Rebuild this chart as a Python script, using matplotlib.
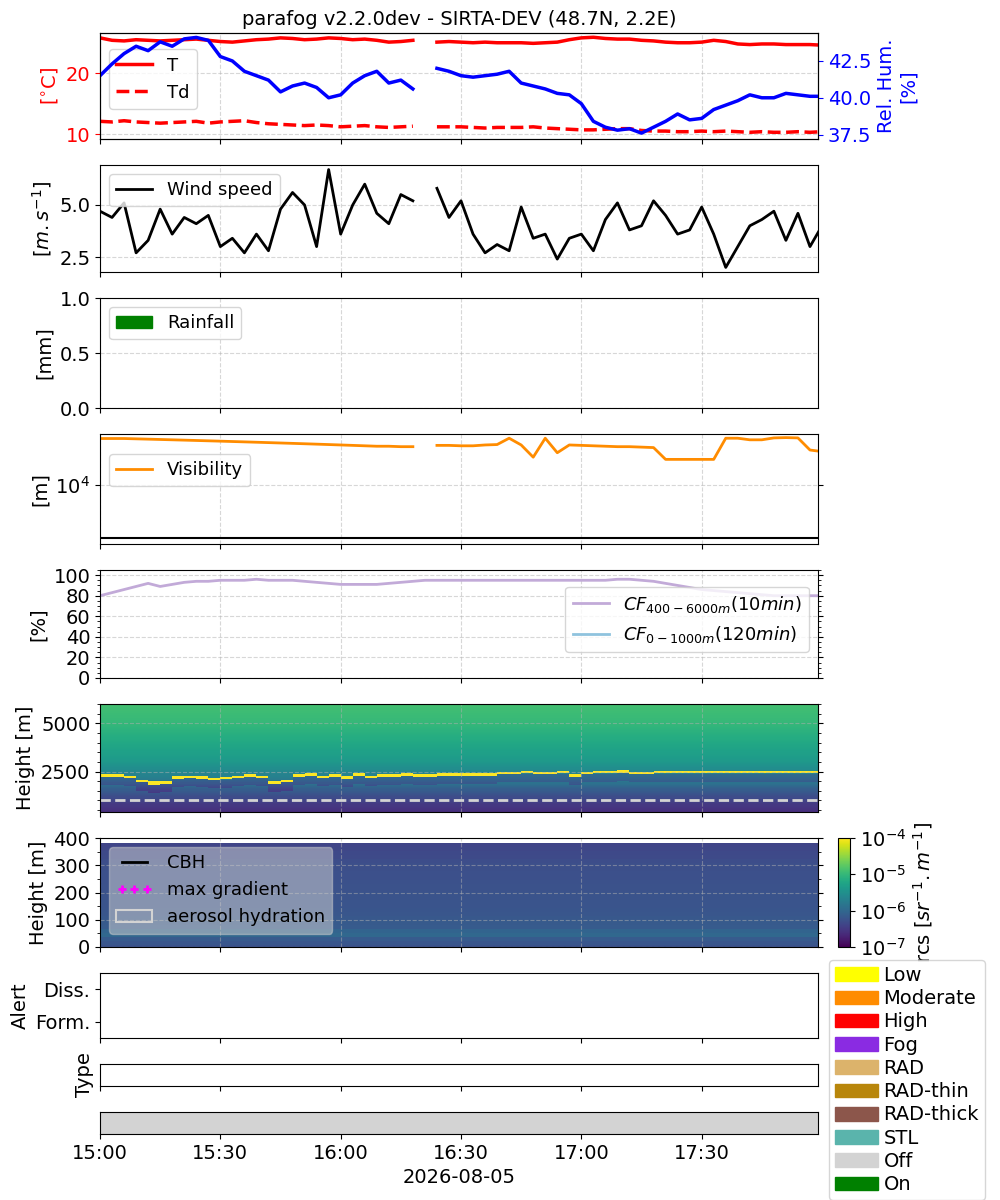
import numpy as np
import pandas as pd
import matplotlib
matplotlib.use("Agg")
import matplotlib.pyplot as plt
import matplotlib.dates as mdates
from matplotlib.colors import LogNorm
from matplotlib.patches import Patch
from matplotlib.lines import Line2D

plt.rcParams["font.size"] = 14
plt.rcParams["legend.fontsize"] = 13
nan = np.nan

# ─── Data (3-minute steps from 15:00) ────────────────────────────────────────
temp = [25.8, 25.4, 25.3, 25.5, 25.4, 25.3, 25.4, 25.5, 25.6, 25.4, 25.2, 25.1, 25.3, 25.5,
        25.6, 25.8, 25.7, 25.5, 25.6, 25.8, 25.7, 25.5, 25.6, 25.4, 25.1, 25.2, 25.4, nan,
        25.1, 25.2, 25.1, 25.0, 25.1, 25.0, 25.0, 25.0, 24.9, 25.0, 25.1, 25.5, 25.8, 25.9,
        25.7, 25.6, 25.6, 25.4, 25.3, 25.1, 25.0, 25.0, 25.1, 25.4, 25.2, 24.8, 24.7, 24.8,
        24.8, 24.7, 24.7, 24.7, 24.6]
dewpoint = [12.1, 12.0, 12.2, 12.0, 11.9, 11.8, 11.9, 12.0, 12.1, 11.8, 12.0, 12.1, 12.2, 11.9,
            11.7, 11.6, 11.5, 11.4, 11.5, 11.4, 11.2, 11.3, 11.4, 11.2, 11.1, 11.2, 11.3, nan,
            11.2, 11.2, 11.2, 11.1, 11.0, 11.1, 11.1, 11.1, 11.2, 11.0, 10.9, 10.8, 10.7, 10.7,
            10.8, 10.9, 10.9, 10.6, 10.5, 10.5, 10.4, 10.4, 10.5, 10.4, 10.5, 10.4, 10.3, 10.4,
            10.3, 10.3, 10.4, 10.3, 10.4]
rel_hum = [41.5, 42.3, 43.0, 43.5, 43.2, 43.8, 43.5, 44.0, 44.1, 43.9, 42.8, 42.5, 41.8, 41.5,
           41.2, 40.4, 40.8, 41.0, 40.7, 40.0, 40.2, 41.0, 41.5, 41.8, 41.0, 41.2, 40.6, nan,
           42.0, 41.8, 41.5, 41.4, 41.5, 41.6, 41.8, 41.0, 40.8, 40.6, 40.3, 40.2, 39.6, 38.4,
           38.0, 37.8, 37.9, 37.6, 38.0, 38.4, 38.9, 38.5, 38.6, 39.2, 39.5, 39.8, 40.2, 40.0,
           40.0, 40.3, 40.2, 40.1, 40.1]
wind = [4.7, 4.4, 5.1, 2.7, 3.3, 4.8, 3.6, 4.4, 4.1, 4.5, 3.0, 3.4, 2.7, 3.6,
        2.8, 4.8, 5.6, 5.0, 3.0, 6.7, 3.6, 5.0, 6.0, 4.6, 4.1, 5.5, 5.2, nan,
        5.8, 4.4, 5.2, 3.6, 2.7, 3.1, 2.8, 4.9, 3.4, 3.6, 2.4, 3.4, 3.6, 2.8,
        4.3, 5.1, 3.8, 4.0, 5.2, 4.5, 3.6, 3.8, 4.9, 3.6, 2.0, 3.0, 4.0, 4.3,
        4.7, 3.3, 4.6, 3.0, 4.0]
visibility = [74000, 74000, 74000, 73000, 72000, 71000, 70000, 69000, 68000, 67000, 66000, 65000,
              64000, 63000, 62000, 61000, 60000, 59000, 58000, 57000, 56000, 55000, 54000, 53000,
              53000, 52000, 52000, nan, 55000, 55000, 54000, 54000, 56000, 57000, 75000, 56000,
              33000, 75000, 40000, 56000, 55000, 54000, 53000, 52000, 52000, 51000, 50000, 30000,
              30000, 30000, 30000, 30000, 75000, 75000, 70000, 70000, 76000, 77000, 76000, 45000,
              42000]
cf_cloud = [80, 83, 86, 89, 92, 89, 91, 93, 94, 94, 95, 95, 95, 96, 95, 95, 95, 94, 93, 92,
            91, 91, 91, 91, 92, 93, 94, 95, 95, 95, 95, 95, 95, 95, 95, 95, 95, 95, 95, 95,
            95, 95, 95, 96, 96, 95, 94, 92, 90, 88, 86, 85, 84, 83, 82, 81, 80, 80, 80, 80, 80]
cbh = [2300, 2300, 2250, 2000, 1900, 1950, 2200, 2250, 2200, 2100, 2150, 2250, 2300, 2250,
       1950, 2000, 2300, 2350, 2250, 2300, 2200, 2350, 2250, 2300, 2300, 2350, 2300, 2300,
       2350, 2350, 2350, 2350, 2350, 2400, 2400, 2450, 2400, 2400, 2450, 2300, 2400, 2450,
       2450, 2500, 2400, 2400, 2450, 2450, 2450, 2450, 2450, 2450, 2450, 2450, 2450, 2450,
       2450, 2450, 2450, 2450, 2450]
vis_threshold = 1000
aerosol_top = 1000

# backscatter profile (log10 rcs) vs height
prof_height = [400, 800, 1200, 1600, 2000, 3000, 4000, 5000, 6000]
prof_log_rcs = [-6.6, -6.5, -6.3, -6.1, -5.8, -5.4, -5.2, -5.0, -4.9]
low_height = [0, 30, 50, 70, 150, 300, 385]
low_log_rcs = [-6.25, -6.15, -5.95, -6.15, -6.22, -6.28, -6.4]

legend_labels = ["Low", "Moderate", "High", "Fog", "RAD", "RAD-thin", "RAD-thick", "STL", "Off", "On"]
legend_colors = ["yellow", "darkorange", "red", "blueviolet", "#dcb36b", "darkgoldenrod",
                 "#8c564b", "#5ab4ac", "lightgray", "green"]

t0 = pd.Timestamp("2026-08-05 15:00")
def times(v):
    return t0 + pd.to_timedelta(np.arange(len(v)) * 3, unit="min")

# ─── Layout ──────────────────────────────────────────────────────────────────
fig = plt.figure(figsize=(10, 12), dpi=100)
def add_ax(top, bottom, left=100, right=818):
    return fig.add_axes([left / 1000, 1 - bottom / 1200, (right - left) / 1000, (bottom - top) / 1200])

boxes = [(33, 139), (165, 272), (298, 408), (434, 544), (570, 678), (704, 812),
         (838, 947), (973, 1038), (1064, 1086), (1112, 1134)]
axes = [add_ax(*b) for b in boxes]
t_end = t0 + pd.Timedelta(minutes=179)
for ax in axes:
    ax.set_xlim(t0, t_end)
    ax.xaxis.set_major_locator(mdates.MinuteLocator(byminute=[0, 30]))
    ax.xaxis.set_major_formatter(mdates.DateFormatter("%H:%M"))
for ax in axes[:-1]:
    ax.tick_params(labelbottom=False)
for ax in axes[:7]:
    ax.grid(True, ls="--", alpha=0.5)

# 1: T / Td / RH
ax = axes[0]
ax.plot(times(temp), temp, color="red", lw=2.5, label="T")
ax.plot(times(dewpoint), dewpoint, color="red", lw=2.5, ls="--", label="Td")
ax.set_ylim(9.2, 26.6)
ax.set_ylabel("[$^{\\circ}$C]", color="red")
ax.tick_params(axis="y", colors="red")
ax.set_title("parafog v2.2.0dev - SIRTA-DEV (48.7N, 2.2E)", fontsize=14)
ax.legend(loc="upper left", bbox_to_anchor=(0.0, 0.93))
axr = ax.twinx()
axr.plot(times(rel_hum), rel_hum, color="blue", lw=2.5)
axr.set_ylim(37.2, 44.4)
axr.set_yticks([37.5, 40.0, 42.5])
axr.set_ylabel("Rel. Hum.\n[%]", color="blue")
axr.tick_params(axis="y", colors="blue")

# 2: wind
ax = axes[1]
ax.plot(times(wind), wind, color="black", lw=2, label="Wind speed")
ax.set_ylim(1.78, 6.92)
ax.set_yticks([2.5, 5.0])
ax.set_ylabel("[$m.s^{-1}$]")
ax.legend(loc="upper left")

# 3: rainfall
ax = axes[2]
ax.set_ylim(0, 1)
ax.set_yticks([0, 0.5, 1.0])
ax.set_ylabel("[mm]")
ax.legend(handles=[Patch(color="green", label="Rainfall")], loc="upper left")

# 4: visibility
ax = axes[3]
ax.plot(times(visibility), visibility, color="darkorange", lw=2, label="Visibility")
ax.axhline(vis_threshold, color="black", lw=1.5)
ax.set_yscale("log")
ax.set_ylim(770, 90000)
ax.set_yticks([1e4])
ax.yaxis.set_minor_locator(matplotlib.ticker.NullLocator())
ax.tick_params(axis="y", right=True)
ax.set_ylabel("[m]")
ax.legend(loc="upper left", bbox_to_anchor=(0.0, 0.9))

# 5: cloud fraction
ax = axes[4]
ax.plot(times(cf_cloud), cf_cloud, color="#c2aad8", lw=2, label="$CF_{400-6000m}(10min)$")
ax.plot([], [], color="#8fc3de", lw=2, label="$CF_{0-1000m}(120min)$")
ax.set_ylim(0, 105)
ax.set_yticks(range(0, 101, 20))
ax.minorticks_on()
ax.tick_params(axis="y", which="both", right=True)
ax.tick_params(axis="x", which="minor", bottom=False)
ax.set_ylabel("[%]")
ax.legend(loc="upper right", bbox_to_anchor=(1.0, 0.93))

# 6: lidar high
ax = axes[5]
edges_t = t0 + pd.to_timedelta(np.arange(len(cbh) + 1) * 3, unit="min")
z = np.arange(400, 6001, 60)
base = np.interp(z, prof_height, prof_log_rcs)
field = np.tile(base[:, None], (1, len(cbh)))
for j, c in enumerate(cbh):
    field[np.abs(z - c) < 70, j] = -4.0
    field[(z > c - 500) & (z < c - 70), j] -= 0.3
norm = LogNorm(1e-7, 1e-4)
ze = np.append(z - 30, z[-1] + 30)
ax.pcolormesh(edges_t, ze, 10 ** field, cmap="viridis", norm=norm)
ax.axhline(aerosol_top, color="lightgray", ls="--", lw=2)
ax.set_ylim(400, 6000)
ax.set_yticks([2500, 5000])
ax.yaxis.set_minor_locator(matplotlib.ticker.MultipleLocator(500))
ax.tick_params(axis="y", which="both", right=True)
ax.set_ylabel("Height [m]")

# 7: lidar low
ax = axes[6]
zl = np.arange(0, 386, 15)
lowf = np.tile(np.interp(zl, low_height, low_log_rcs)[:, None], (1, len(cbh)))
zle = np.append(zl - 7.5, zl[-1] + 7.5)
mesh = ax.pcolormesh(edges_t, zle, 10 ** lowf, cmap="viridis", norm=norm)
ax.set_ylim(0, 400)
ax.set_yticks([0, 100, 200, 300, 400])
ax.yaxis.set_minor_locator(matplotlib.ticker.MultipleLocator(50))
ax.tick_params(axis="y", which="both", right=True)
ax.set_ylabel("Height [m]")
ax.legend(handles=[Line2D([], [], color="black", lw=2, label="CBH"),
                   Line2D([], [], color="magenta", marker="+", ls="none", mew=2, label="max gradient"),
                   Patch(facecolor="none", edgecolor="lightgray", lw=1.5, label="aerosol hydration")],
          loc="upper left", numpoints=3, framealpha=0.5, facecolor="lightgray")
cax = fig.add_axes([838 / 1000, 1 - 947 / 1200, 12 / 1000, 109 / 1200])
cb = fig.colorbar(mesh, cax=cax)
cb.set_ticks([1e-7, 1e-6, 1e-5, 1e-4])
cb.set_label("rcs [$sr^{-1}.m^{-1}$]")

# 8: alert
ax = axes[7]
ax.set_ylim(-0.5, 1.5)
ax.set_yticks([0, 1])
ax.set_yticklabels(["Form.", "Diss."])
ax.set_ylabel("Alert")

# 9: type
ax = axes[8]
ax.set_yticks([])
ax.set_ylabel("Type")

# 10: on/off
ax = axes[9]
ax.axvspan(t0, t_end, color="lightgray")
ax.set_yticks([])
ax.set_xlabel("2026-08-05")

fig.legend(handles=[Patch(color=c, label=l) for l, c in zip(legend_labels, legend_colors)],
           loc="upper left", bbox_to_anchor=(0.829, 1 - 960 / 1200), fontsize=14,
           handlelength=2.2, handletextpad=0.3, labelspacing=0.22, borderaxespad=0,
           borderpad=0.3)

fig.savefig("out.png", dpi=100)
